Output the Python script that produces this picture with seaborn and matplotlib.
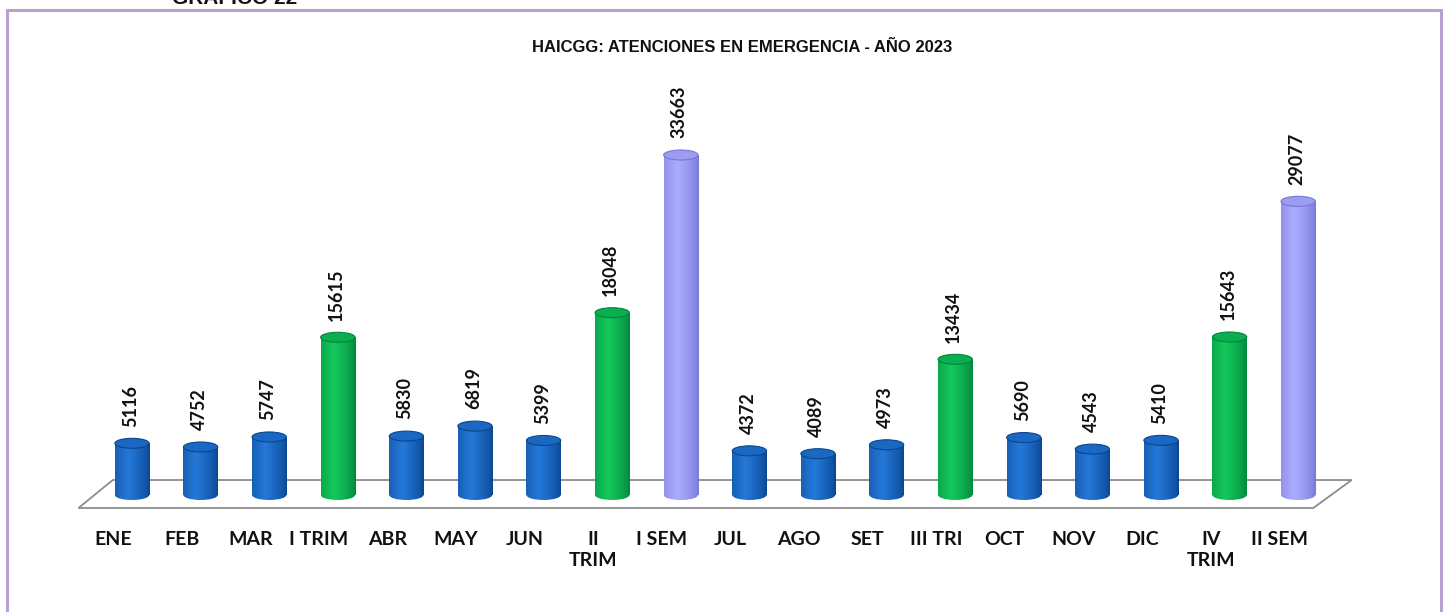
import numpy as np
import pandas as pd
import matplotlib
matplotlib.use("Agg")
import matplotlib.pyplot as plt
import seaborn as sns
from matplotlib.patches import Ellipse, Polygon
from matplotlib.lines import Line2D
from matplotlib.colors import to_rgb
from matplotlib.transforms import ScaledTranslation

# ---------------- data ----------------
categories = ["ENE", "FEB", "MAR", "I TRIM", "ABR", "MAY", "JUN", "II\nTRIM", "I SEM",
              "JUL", "AGO", "SET", "III TRI", "OCT", "NOV", "DIC", "IV\nTRIM", "II SEM"]
values = [5116, 4752, 5747, 15615, 5830, 6819, 5399, 18048, 33663,
          4372, 4089, 4973, 13434, 5690, 4543, 5410, 15643, 29077]
kinds = ["m", "m", "m", "t", "m", "m", "m", "t", "s",
         "m", "m", "m", "t", "m", "m", "m", "t", "s"]
title = "HAICGG: ATENCIONES EN EMERGENCIA - AÑO 2023"

base_col = {"m": "#1565C0", "t": "#00B050", "s": "#9999FF"}
dark_col = {"m": "#0A4690", "t": "#00863A", "s": "#7878D6"}
light_col = {"m": "#2478D8", "t": "#14C85C", "s": "#ABABFF"}
top_col = {"m": "#1A68C2", "t": "#0AAE4E", "s": "#9C9CF2"}

sns.set_theme(style="white")
plt.rcParams["font.family"] = ["Lato", "DejaVu Sans"]

W, H = 1448, 612
fig = plt.figure(figsize=(W / 100, H / 100), dpi=100)
ax = fig.add_axes([63.4 / W, 1 - 520 / H, 1303.4 / W, 450 / H])

df = pd.DataFrame({"cat": categories, "val": values})
palette = [base_col[k] for k in kinds]
sns.barplot(data=df, x="cat", y="val", hue="cat", palette=palette, legend=False,
            width=0.5, ax=ax, zorder=3)
bars = list(ax.patches)

ylo, yhi = -2475, 42079
n = len(categories)
ax.set_xlim(-1, n)
ax.set_ylim(ylo, yhi)

px_per_unit = 450 / (yhi - ylo)
ell_h = 10 / px_per_unit

# floor (decorative parallelogram)
y_front = -13 / px_per_unit
y_back = 15 / px_per_unit
floor = Polygon([(-0.78, y_front), (n - 1 + 0.22, y_front), (n - 1 + 0.78, y_back), (-0.28, y_back)],
                closed=True, facecolor="white", edgecolor="#8C8C8C", lw=1.3, zorder=1)
ax.add_patch(floor)

t = np.linspace(0, 1, 64)
profile = np.clip(1 - np.abs(t - 0.38) / 0.62, 0, 1) ** 0.7

for i, p in enumerate(bars):
    k = kinds[i]
    x0 = p.get_x()
    w = p.get_width()
    h = p.get_height()
    d = np.array(to_rgb(dark_col[k]))
    l = np.array(to_rgb(light_col[k]))
    grad = d[None, :] + (l - d)[None, :] * profile[:, None]
    img = grad[None, :, :]
    p.set_facecolor("none")
    p.set_edgecolor("none")
    im = ax.imshow(img, extent=(x0, x0 + w, 0, h), aspect="auto", zorder=3, interpolation="bilinear")
    im.set_clip_path(p)
    be = Ellipse((x0 + w / 2, 0), w, ell_h, facecolor="none", edgecolor="none", zorder=3)
    ax.add_patch(be)
    im2 = ax.imshow(img, extent=(x0, x0 + w, -ell_h, ell_h), aspect="auto", zorder=3, interpolation="bilinear")
    im2.set_clip_path(be)
    te = Ellipse((x0 + w / 2, h), w, ell_h, facecolor=top_col[k], edgecolor=dark_col[k], lw=0.8, zorder=4)
    ax.add_patch(te)
    ax.annotate(f"{values[i]}", (x0 + w / 2, h), xytext=(-1, 12), textcoords="offset points",
                rotation=90, ha="center", va="bottom", fontsize=13, fontweight="bold",
                color="#111111", zorder=5)

ax.set_xlim(-1, n)
ax.set_ylim(ylo, yhi)
ax.set_xlabel("")
ax.set_ylabel("")
ax.set_yticks([])
ax.set_xticks(range(n))
ax.set_xticklabels(categories, fontsize=14, fontweight="bold", color="#111111", linespacing=1.3)
ax.tick_params(axis="x", length=0, pad=8)
shift = ScaledTranslation(-0.19, 0, fig.dpi_scale_trans)
for lab in ax.get_xticklabels():
    lab.set_transform(lab.get_transform() + shift)
for s in ax.spines.values():
    s.set_visible(False)
ax.patch.set_alpha(0)

fig.text(742 / W, 1 - 47 / H, title, ha="center", va="center", fontsize=12, fontweight="bold",
         family=["Liberation Sans Narrow", "Liberation Sans", "DejaVu Sans"], color="#111111")

fig.text(172 / W, 1 - 4 / H, "GRÁFICO 22", ha="left", va="baseline", fontsize=15, fontweight="bold",
         family=["Liberation Sans", "DejaVu Sans"], color="#111111")

# frame
fc = "#B9A0D0"
fig.add_artist(Line2D([7 / W, 7 / W], [0, 1 - 10 / H], color=fc, lw=2.2, transform=fig.transFigure))
fig.add_artist(Line2D([1441 / W, 1441 / W], [0, 1 - 10 / H], color=fc, lw=2.2, transform=fig.transFigure))
fig.add_artist(Line2D([7 / W, 1441 / W], [1 - 10 / H, 1 - 10 / H], color=fc, lw=2.2, transform=fig.transFigure))

fig.savefig("out.png", dpi=100)
